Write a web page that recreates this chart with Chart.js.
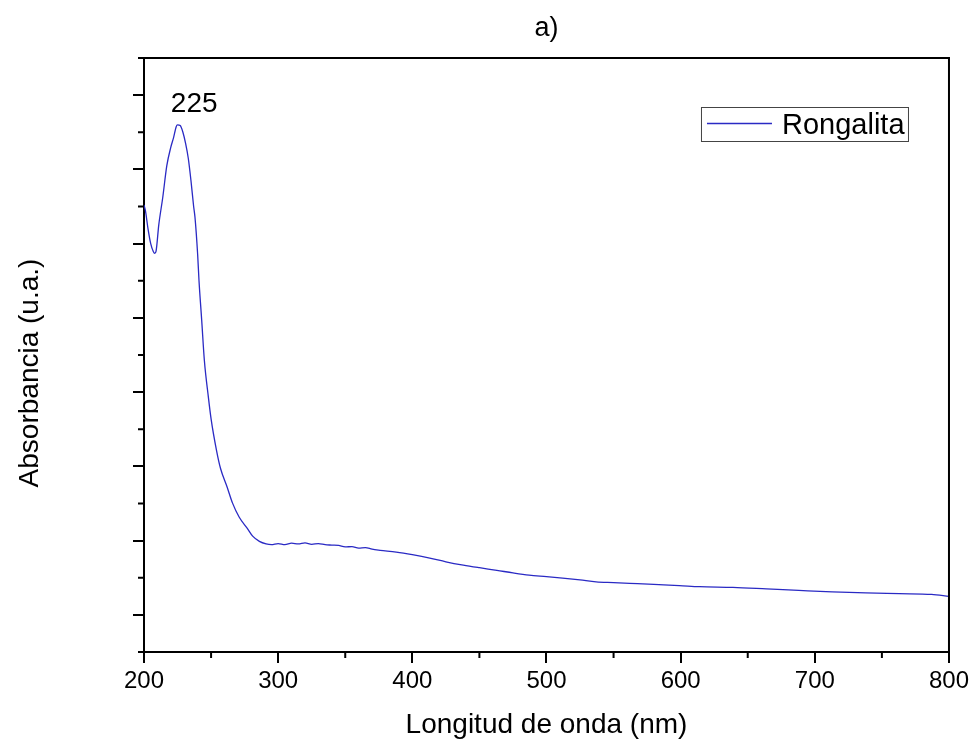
<!DOCTYPE html>
<html lang="es">
<head>
<meta charset="utf-8">
<title>Rongalita UV-Vis</title>
<script src="https://cdn.jsdelivr.net/npm/chart.js@4.4.1/dist/chart.umd.min.js"></script>
<style>
    html, body { margin: 0; padding: 0; background: #fff; }
    #contenedor { width: 973px; height: 743px; }
</style>
</head>
<body>
<div id="contenedor"><canvas id="graficoRongalita" width="973" height="743"></canvas></div>
<script>
// longitud de onda (nm) y absorbancia
const longitudes = [
    200, 201, 203, 205, 207, 208, 209, 211, 214, 217, 220, 222, 224, 225, 227, 229, 231, 233, 235, 237,
    238, 240, 241, 243, 245, 248, 250, 254, 257, 262, 266, 271, 277, 281, 286, 291, 295, 300, 305,
    310, 315, 320, 325, 330, 335, 340, 345, 350, 355, 360, 365, 370, 376, 388, 400, 413, 425, 438, 450,
    463, 475, 487, 500, 512, 525, 537, 550, 562, 580, 599, 614, 639, 664, 688, 713, 738, 763, 787, 800
]
const absorbancias = [
    1.204, 1.19, 1.14, 1.10, 1.078, 1.074, 1.08, 1.15, 1.225, 1.31, 1.36, 1.385, 1.415, 1.42, 1.418, 1.40, 1.37, 1.33, 1.27, 1.20,
    1.171, 1.07, 1.00, 0.894, 0.785, 0.686, 0.628, 0.544, 0.495, 0.444, 0.401, 0.363, 0.333, 0.312, 0.298, 0.291, 0.289, 0.292, 0.289,
    0.293, 0.291, 0.294, 0.290, 0.292, 0.289, 0.288, 0.287, 0.283, 0.284, 0.280, 0.281, 0.277, 0.274, 0.269, 0.262, 0.253, 0.243, 0.234, 0.227,
    0.220, 0.213, 0.207, 0.203, 0.199, 0.194, 0.189, 0.187, 0.185, 0.182, 0.179, 0.176, 0.174, 0.170, 0.166, 0.162, 0.159, 0.157, 0.155, 0.150
]

const ticksMayoresX = [200, 300, 400, 500, 600, 700, 800]
const ticksMenoresX = [250, 350, 450, 550, 650, 750]
const ticksMayoresY = [0.1, 0.3, 0.5, 0.7, 0.9, 1.1, 1.3, 1.5]
const ticksMenoresY = [0, 0.2, 0.4, 0.6, 0.8, 1.0, 1.2, 1.4, 1.6]

const etiquetaPico = { texto: '225', x: 220, y: 1.455 }
const tituloY = 'Absorbancia (u.a.)'

const fuente = "'Liberation Sans', Arial, sans-serif"
const azul = '#2a2ac4'

// marco superior/derecho, ticks menores, titulo Y, leyenda con borde y etiqueta del pico
const extras = {
    id: 'extras',
    afterDraw(chart) {
        const ctx = chart.ctx
        const area = chart.chartArea
        const ejeX = chart.scales.x
        const ejeY = chart.scales.y

        ctx.save()
        ctx.strokeStyle = '#000'
        ctx.lineWidth = 2
        ctx.beginPath()
        ctx.moveTo(area.left, area.top)
        ctx.lineTo(area.right, area.top)
        ctx.lineTo(area.right, area.bottom)
        ctx.stroke()

        ctx.beginPath()
        ticksMenoresX.forEach(function(v){
            const px = ejeX.getPixelForValue(v)
            ctx.moveTo(px, area.bottom)
            ctx.lineTo(px, area.bottom + 6)
        })
        ticksMenoresY.forEach(function(v){
            const py = ejeY.getPixelForValue(v)
            ctx.moveTo(area.left - 6, py)
            ctx.lineTo(area.left, py)
        })
        ctx.stroke()

        // titulo eje Y (algo por debajo del centro, como en el original)
        ctx.save()
        ctx.translate(30, (area.top + area.bottom) / 2 + 18)
        ctx.rotate(-Math.PI / 2)
        ctx.fillStyle = '#000'
        ctx.font = '28px ' + fuente
        ctx.textAlign = 'center'
        ctx.textBaseline = 'middle'
        ctx.fillText(tituloY, 0, 0)
        ctx.restore()

        // leyenda
        const ds = chart.data.datasets[0]
        const x0 = area.right - 248
        const y0 = area.top + 49
        ctx.lineWidth = 1
        ctx.strokeStyle = '#444'
        ctx.strokeRect(x0 + 0.5, y0 + 0.5, 207, 34)
        ctx.strokeStyle = ds.borderColor
        ctx.lineWidth = 1.3
        ctx.beginPath()
        ctx.moveTo(x0 + 6, y0 + 16.5)
        ctx.lineTo(x0 + 71, y0 + 16.5)
        ctx.stroke()
        ctx.fillStyle = '#000'
        ctx.font = '29px ' + fuente
        ctx.textBaseline = 'alphabetic'
        ctx.textAlign = 'left'
        ctx.fillText(ds.label, x0 + 81, y0 + 27)

        // pico
        ctx.font = '28px ' + fuente
        ctx.fillText(etiquetaPico.texto, ejeX.getPixelForValue(etiquetaPico.x), ejeY.getPixelForValue(etiquetaPico.y))
        ctx.restore()
    }
}

Chart.defaults.font.family = fuente
Chart.defaults.color = '#000'

const ctx = document.getElementById('graficoRongalita')

new Chart(ctx, {
    type: 'line',
    plugins: [extras],
    data: {
        datasets: [{
            label: 'Rongalita',
            data: longitudes.map(function(nm, i){ return { x: nm, y: absorbancias[i] } }),
            borderColor: azul,
            borderWidth: 1.3,
            pointRadius: 0,
            cubicInterpolationMode: 'monotone',
            fill: false
        }]
    },
    options: {
        responsive: false,
        animation: false,
        devicePixelRatio: 1,
        layout: {
            padding: { left: 0, right: 23, top: 0, bottom: 0 }
        },
        plugins: {
            legend: { display: false },
            tooltip: { enabled: false },
            title: {
                display: true,
                text: 'a)',
                fullSize: false,
                color: '#000',
                font: { size: 27, weight: 'normal' },
                padding: { top: 12, bottom: 13.6 }
            }
        },
        scales: {
            x: {
                type: 'linear',
                min: 200,
                max: 800,
                afterBuildTicks: function(eje){
                    eje.ticks = ticksMayoresX.map(function(v){ return { value: v } })
                },
                afterFit: function(eje){ eje.height = 91 },
                ticks: {
                    font: { size: 24 },
                    color: '#000',
                    padding: 4,
                    maxRotation: 0,
                    autoSkip: false
                },
                grid: {
                    drawOnChartArea: false,
                    drawTicks: true,
                    tickLength: 11,
                    lineWidth: 2,
                    color: '#000'
                },
                border: { display: true, color: '#000', width: 2 },
                title: {
                    display: true,
                    text: 'Longitud de onda (nm)',
                    font: { size: 28 },
                    color: '#000',
                    padding: { top: 0, bottom: 1 }
                }
            },
            y: {
                type: 'linear',
                min: 0,
                max: 1.6,
                afterBuildTicks: function(eje){
                    eje.ticks = ticksMayoresY.map(function(v){ return { value: v } })
                },
                afterFit: function(eje){ eje.width = 144 },
                ticks: { display: false },
                grid: {
                    drawOnChartArea: false,
                    drawTicks: true,
                    tickLength: 11,
                    lineWidth: 2,
                    color: '#000'
                },
                border: { display: true, color: '#000', width: 2 }
            }
        }
    }
})
</script>
</body>
</html>
